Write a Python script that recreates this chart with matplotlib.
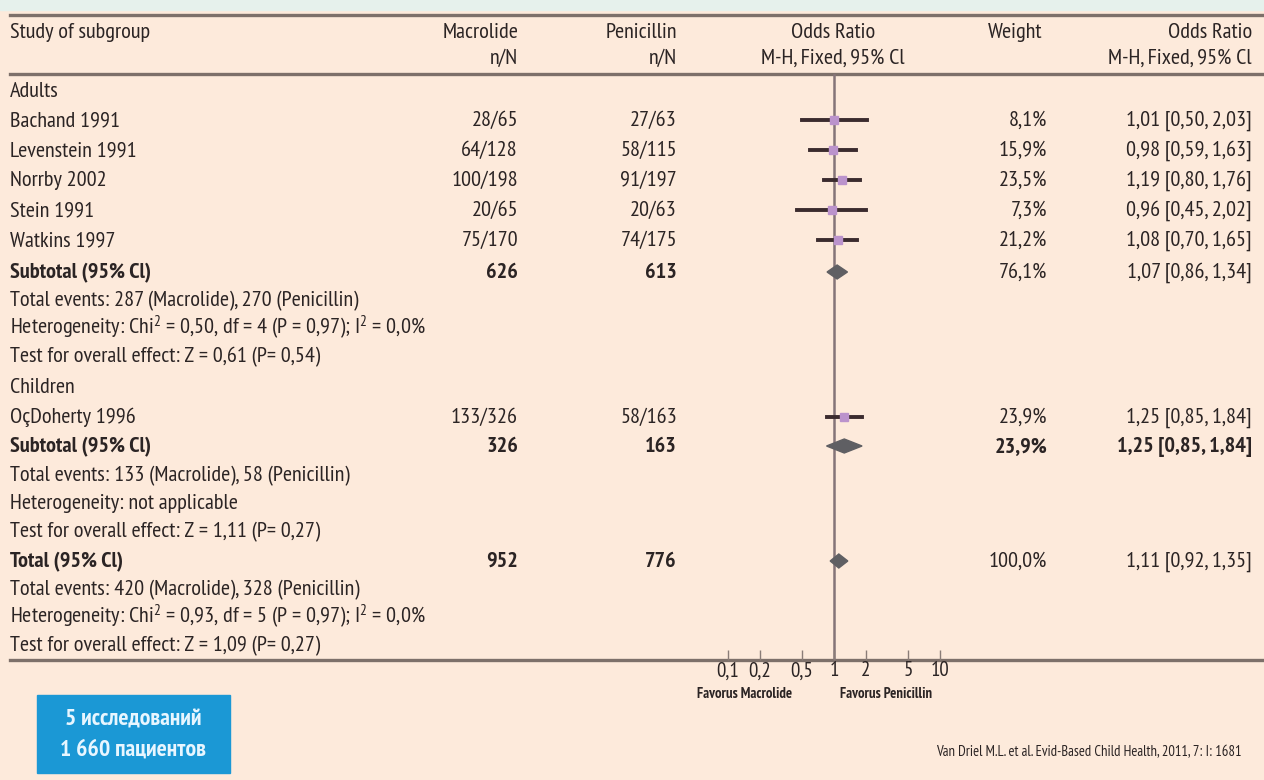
import matplotlib
matplotlib.use('Agg')
import matplotlib.pyplot as plt
import numpy as np
from matplotlib.patches import Rectangle, Polygon

plt.rcParams['font.family'] = ['PT Sans Narrow', 'Archivo Narrow', 'DejaVu Sans']
plt.rcParams['mathtext.fontset'] = 'custom'
plt.rcParams['mathtext.rm'] = 'PT Sans Narrow'
plt.rcParams['mathtext.it'] = 'PT Sans Narrow'
plt.rcParams['mathtext.default'] = 'regular'

# data
studies = ['Bachand 1991', 'Levenstein 1991', 'Norrby 2002', 'Stein 1991', 'Watkins 1997', 'OçDoherty 1996']
mac_n = [28, 64, 100, 20, 75, 133]
mac_N = [65, 128, 198, 65, 170, 326]
pen_n = [27, 58, 91, 20, 74, 58]
pen_N = [63, 115, 197, 63, 175, 163]
weights = ['8,1%', '15,9%', '23,5%', '7,3%', '21,2%', '23,9%']
or_est = [1.01, 0.98, 1.19, 0.96, 1.08, 1.25]
or_lo = [0.50, 0.59, 0.80, 0.45, 0.70, 0.85]
or_hi = [2.03, 1.63, 1.76, 2.02, 1.65, 1.84]

pooled_labels = ['Subtotal (95% Cl)', 'Subtotal (95% Cl)', 'Total (95% Cl)']
pooled_mac = [626, 326, 952]
pooled_pen = [613, 163, 776]
pooled_w = ['76,1%', '23,9%', '100,0%']
pooled_est = [1.07, 1.25, 1.11]
pooled_lo = [0.86, 0.85, 0.92]
pooled_hi = [1.34, 1.84, 1.35]

notes = [
    ['Total events: 287 (Macrolide), 270 (Penicillin)',
     r'Heterogeneity: Chi$^{2}$ = 0,50, df = 4 (P = 0,97); I$^{2}$ = 0,0%',
     'Test for overall effect: Z = 0,61 (P= 0,54)'],
    ['Total events: 133 (Macrolide), 58 (Penicillin)',
     'Heterogeneity: not applicable',
     'Test for overall effect: Z = 1,11 (P= 0,27)'],
    ['Total events: 420 (Macrolide), 328 (Penicillin)',
     r'Heterogeneity: Chi$^{2}$ = 0,93, df = 5 (P = 0,97); I$^{2}$ = 0,0%',
     'Test for overall effect: Z = 1,09 (P= 0,27)'],
]
ticks = [0.1, 0.2, 0.5, 1, 2, 5, 10]
tick_labels = ['0,1', '0,2', '0,5', '1', '2', '5', '10']

# layout (pixel rows)
study_y = [120, 150, 180, 210, 240, 417]
pooled_y = [272, 446, 561]
notes_y = [[300, 328, 356], [475, 503, 531], [589, 617, 645]]
group_y = {'Adults': 91, 'Children': 387}
line_top, line_head, line_bot = 15, 74, 660

bg = '#fdeadb'
txt = '#2b2424'
fs = 16

fig = plt.figure(figsize=(12.64, 7.8), dpi=100, facecolor=bg)
ax = fig.add_axes([0, 0, 1, 1])
ax.set_xlim(0, 1264)
ax.set_ylim(780, 0)
ax.axis('off')
ax.add_patch(Rectangle((0, 0), 1264, 10, color='#e6f1ec', zorder=0))


def put(x, y, s, **kw):
    # baseline-aligned row text, y is the row centre
    ax.text(x, y + 6, s, fontsize=fs, color=txt, va='baseline', **kw)


# rules
for yy in [line_top, line_head, line_bot]:
    ax.plot([10, 1264], [yy, yy], color='#7d706a', lw=2.4)

# header
put(10, 32, 'Study of subgroup')
put(518, 32, 'Macrolide', ha='right')
put(518, 58, 'n/N', ha='right')
put(677, 32, 'Penicillin', ha='right')
put(677, 58, 'n/N', ha='right')
put(833, 32, 'Odds Ratio', ha='center')
put(833, 58, 'M-H, Fixed, 95% Cl', ha='center')
put(1042, 32, 'Weight', ha='right')
put(1252, 32, 'Odds Ratio', ha='right')
put(1252, 58, 'M-H, Fixed, 95% Cl', ha='right')

for g, yy in group_y.items():
    put(10, yy, g)

for i, s in enumerate(studies):
    yy = study_y[i]
    put(10, yy, s)
    put(518, yy, f'{mac_n[i]}/{mac_N[i]}', ha='right')
    put(677, yy, f'{pen_n[i]}/{pen_N[i]}', ha='right')
    put(1047, yy, weights[i], ha='right')
    ci = f'{or_est[i]:.2f} [{or_lo[i]:.2f}, {or_hi[i]:.2f}]'.replace('.', ',')
    put(1252, yy, ci, ha='right')

for j, lab in enumerate(pooled_labels):
    yy = pooled_y[j]
    bold_right = 'bold' if j == 1 else 'normal'
    put(10, yy, lab, weight='bold')
    put(518, yy, str(pooled_mac[j]), ha='right', weight='bold')
    put(677, yy, str(pooled_pen[j]), ha='right', weight='bold')
    put(1047, yy, pooled_w[j], ha='right', weight=bold_right)
    ci = f'{pooled_est[j]:.2f} [{pooled_lo[j]:.2f}, {pooled_hi[j]:.2f}]'.replace('.', ',')
    put(1252, yy, ci, ha='right', weight=bold_right)
    for k, line in enumerate(notes[j]):
        put(10, notes_y[j][k], line)

# forest panel (log scale, ~106 px per decade, OR=1 at x=834)
x0, x1 = 600, 1000
px_dec = 106.0
xl = (10 ** ((x0 - 834) / px_dec), 10 ** ((x1 - 834) / px_dec))
fa = fig.add_axes([x0 / 1264, (780 - line_bot) / 780, (x1 - x0) / 1264, (line_bot - line_head) / 780])
fa.patch.set_visible(False)
fa.set_xscale('log')
fa.set_xlim(*xl)
fa.set_ylim(line_bot, line_head)
for sp in fa.spines.values():
    sp.set_visible(False)
fa.set_yticks([])
fa.set_xticks(ticks)
fa.set_xticklabels(tick_labels, fontsize=15, color=txt)
fa.minorticks_off()
fa.tick_params(axis='x', direction='in', length=7, width=1, color='#8a7d78', pad=1)

fa.axvline(1, color='#857478', lw=1.8, zorder=1)
for i in range(len(studies)):
    fa.plot([or_lo[i], or_hi[i]], [study_y[i], study_y[i]], color='#3b2b2e', lw=2.8, zorder=2)
    fa.plot(or_est[i], study_y[i], marker='s', ms=6, color='#bb93cc', mec='#bb93cc', zorder=3)
for j in range(len(pooled_y)):
    yy = pooled_y[j]
    dia = Polygon([[pooled_lo[j], yy], [pooled_est[j], yy - 7], [pooled_hi[j], yy], [pooled_est[j], yy + 7]],
                  closed=True, color='#5f5f63', zorder=3)
    fa.add_patch(dia)

ax.text(745, 694, 'Favorus Macrolide', fontsize=10.5, color=txt, va='center', ha='center', weight='bold')
ax.text(886, 694, 'Favorus Penicillin', fontsize=10.5, color=txt, va='center', ha='center', weight='bold')

# info box
ax.add_patch(Rectangle((37, 695), 193, 78, color='#1b98d5', zorder=2))
ax.text(133, 720, '5 исследований', fontsize=17, color='#e8f6ff', va='center', ha='center', weight='bold', zorder=3)
ax.text(133, 750, '1 660 пациентов', fontsize=17, color='#e8f6ff', va='center', ha='center', weight='bold', zorder=3)

ax.text(1242, 752, 'Van Driel M.L. et al. Evid-Based Child Health, 2011, 7: I: 1681',
        fontsize=10.5, color=txt, va='center', ha='right')

fig.savefig('out.png', dpi=100, facecolor=bg)
